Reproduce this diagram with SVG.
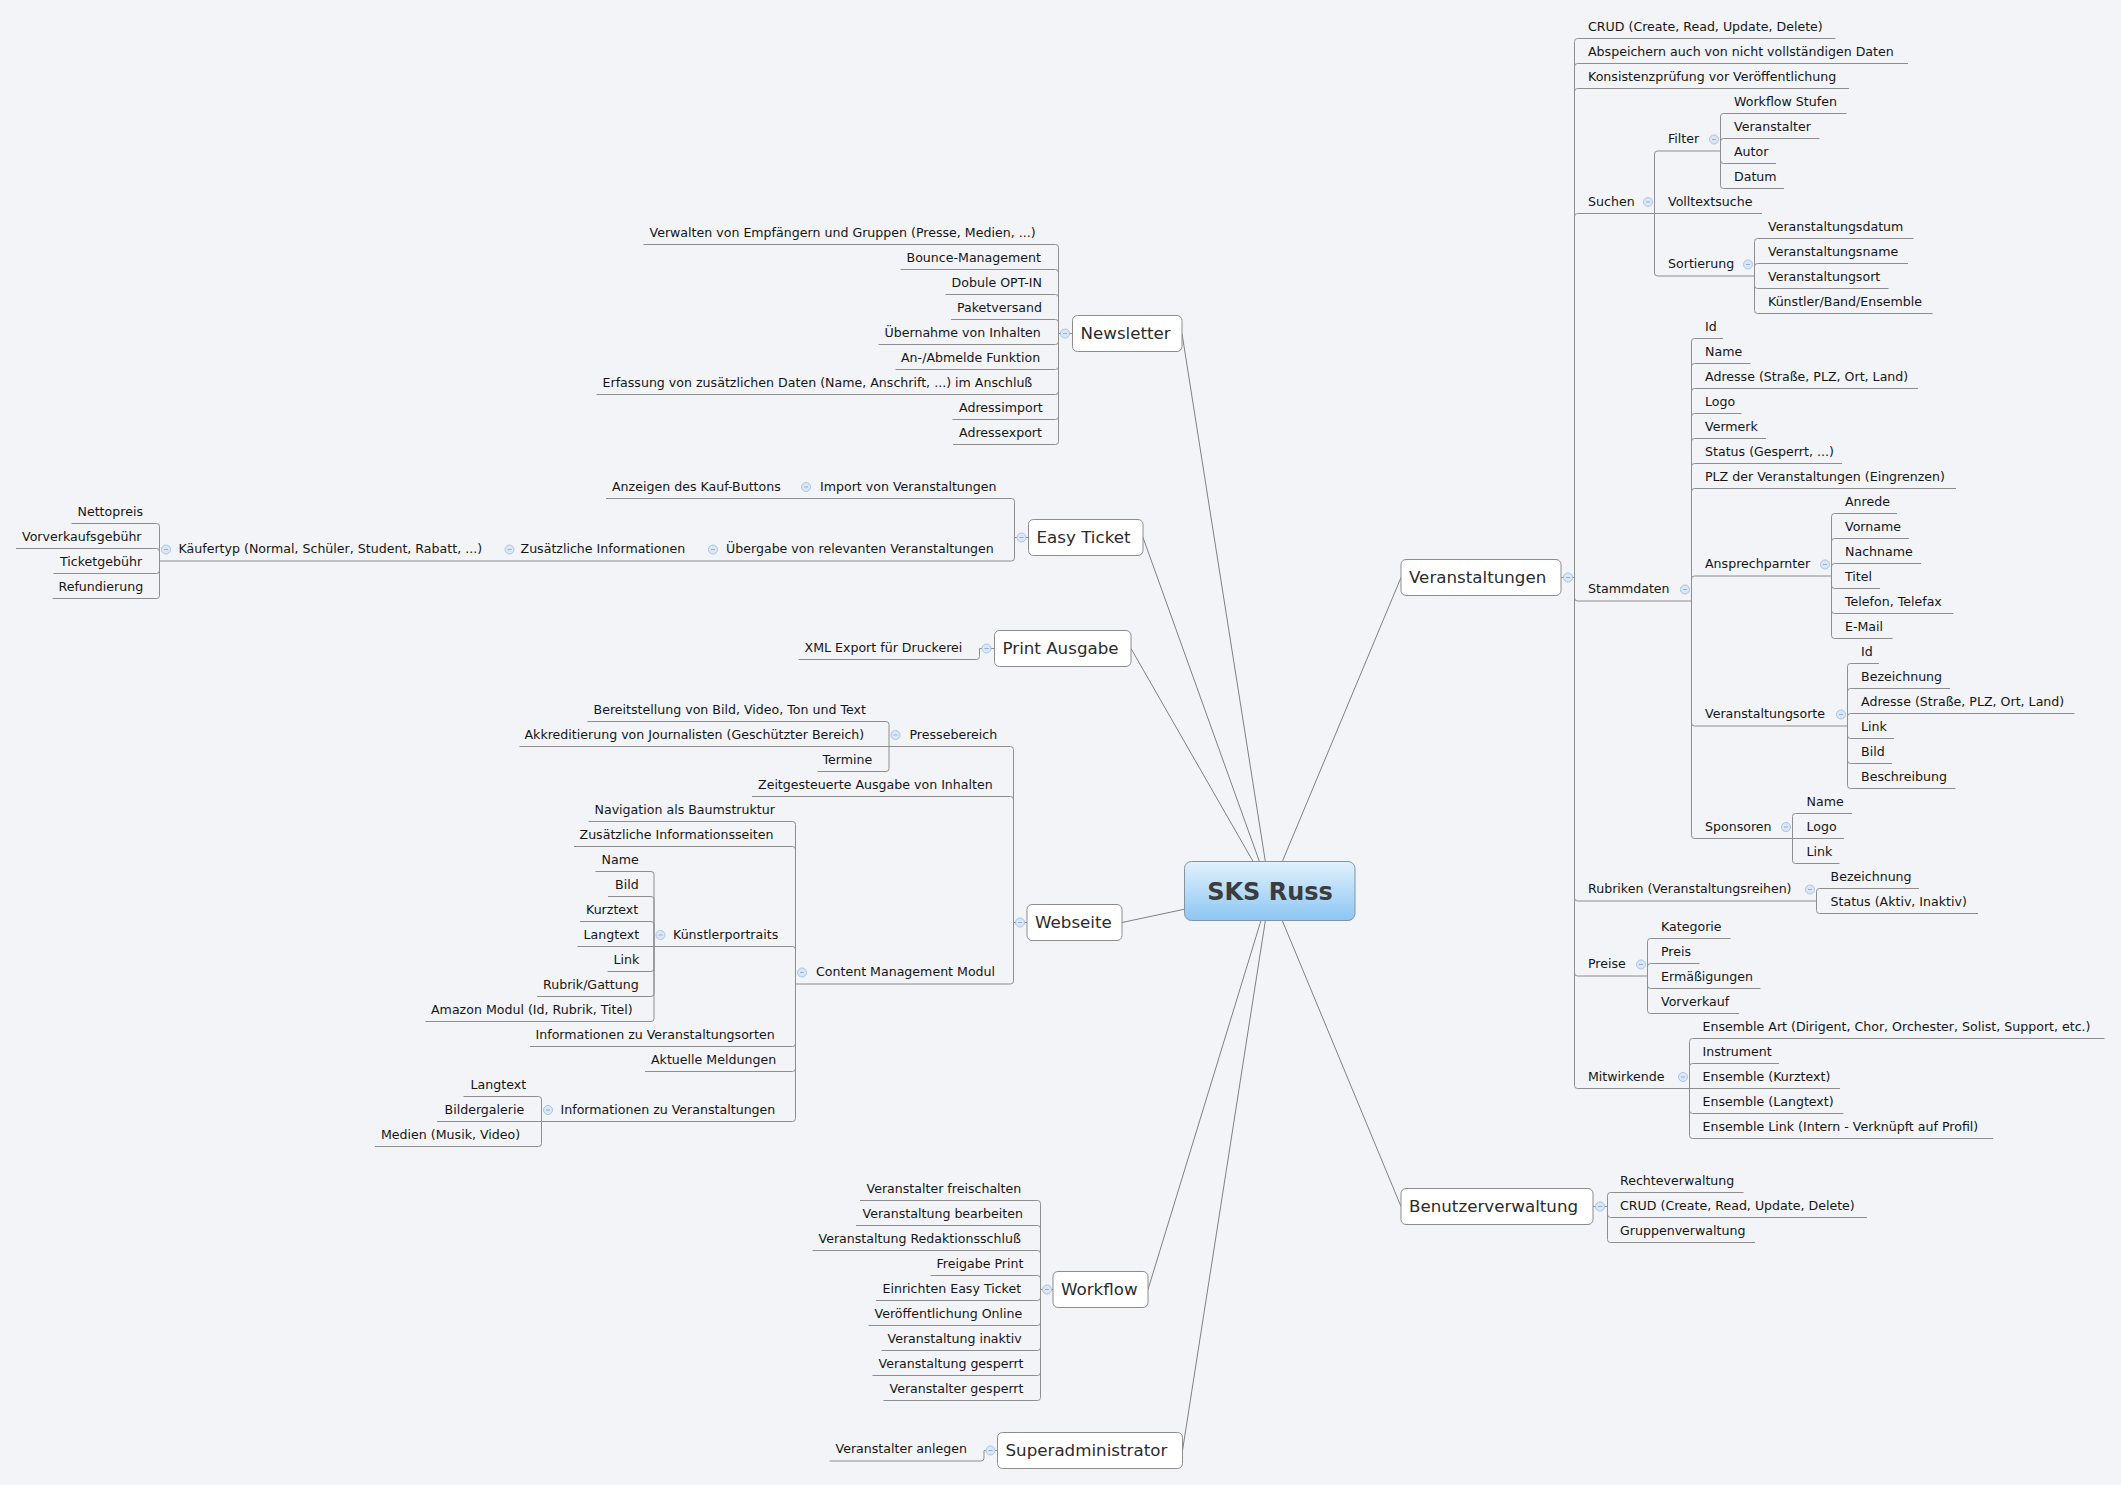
<svg xmlns="http://www.w3.org/2000/svg" width="2121" height="1485" viewBox="0 0 2121 1485">
<style>
.t{font-family:"DejaVu Sans","Noto Sans",sans-serif;font-size:12.6px;fill:#161616}
.m{font-family:"DejaVu Sans","Noto Sans",sans-serif;font-size:16.7px;fill:#2b2b2b}
.c{font-family:"DejaVu Sans","Noto Sans",sans-serif;font-size:24px;font-weight:bold;fill:#3c3c3c;text-anchor:middle}
.ln{fill:none;stroke:#8e8e8e;stroke-width:1}
.mc{fill:none;stroke:#808080;stroke-width:1}
.box{fill:#ffffff;stroke:#8c8c8c;stroke-width:1}
</style>
<defs>
<linearGradient id="cg" x1="0" y1="0" x2="0" y2="1">
<stop offset="0" stop-color="#e2f1fe"/>
<stop offset="1" stop-color="#8cc6f4"/>
</linearGradient>
<g id="col"><circle r="4.5" fill="#dce7f5" stroke="#abc4e4" stroke-width="1"/><path d="M-2 0H2" stroke="#90afd8" stroke-width="1"/></g>
</defs>
<rect width="2121" height="1485" fill="#f2f4f7"/>

<g id="connectors">
<path class="mc" d="M1270 891L1182 333.5M1270 891L1143 537.5M1270 891L1131 648.5M1270 891L1122 922.5M1270 891L1148 1289.5M1270 891L1182.5 1450.5M1270 891L1401 577.5M1270 891L1401 1206.5"/>
<path class="ln" d="M1561 577.5H1574.5
M1574.5 577.5V41.5Q1574.5 38.5 1577.5 38.5H1835.5
M1574.5 577.5V66.5Q1574.5 63.5 1577.5 63.5H1908
M1574.5 577.5V91.5Q1574.5 88.5 1577.5 88.5H1849
M1574.5 577.5V216.5Q1574.5 213.5 1577.5 213.5H1654.5
M1574.5 577.5V598Q1574.5 601 1577.5 601H1691.5
M1574.5 577.5V898Q1574.5 901 1577.5 901H1816.5
M1574.5 577.5V973Q1574.5 976 1577.5 976H1647.5
M1574.5 577.5V1085.5Q1574.5 1088.5 1577.5 1088.5H1689.5"/>
<path class="ln" d="M1654.5 213.5V154Q1654.5 151 1657.5 151H1720.5
M1654.5 213.5H1762
M1654.5 213.5V273Q1654.5 276 1657.5 276H1754.5
M1720.5 151V116.5Q1720.5 113.5 1723.5 113.5H1846.5
M1720.5 151V141.5Q1720.5 138.5 1723.5 138.5H1819.5
M1720.5 151V160.5Q1720.5 163.5 1723.5 163.5H1776
M1720.5 151V185.5Q1720.5 188.5 1723.5 188.5H1784
M1754.5 276V241.5Q1754.5 238.5 1757.5 238.5H1913.5
M1754.5 276V266.5Q1754.5 263.5 1757.5 263.5H1908
M1754.5 276V285.5Q1754.5 288.5 1757.5 288.5H1888.5
M1754.5 276V310.5Q1754.5 313.5 1757.5 313.5H1932.5"/>
<path class="ln" d="M1691.5 601V341.5Q1691.5 338.5 1694.5 338.5H1723
M1691.5 601V366.5Q1691.5 363.5 1694.5 363.5H1750.5
M1691.5 601V391.5Q1691.5 388.5 1694.5 388.5H1918
M1691.5 601V416.5Q1691.5 413.5 1694.5 413.5H1741.5
M1691.5 601V441.5Q1691.5 438.5 1694.5 438.5H1766
M1691.5 601V466.5Q1691.5 463.5 1694.5 463.5H1842
M1691.5 601V491.5Q1691.5 488.5 1694.5 488.5H1956
M1691.5 601V579Q1691.5 576 1694.5 576H1831.5
M1691.5 601V723Q1691.5 726 1694.5 726H1847.5
M1691.5 601V835.5Q1691.5 838.5 1694.5 838.5H1792.5
M1831.5 576V516.5Q1831.5 513.5 1834.5 513.5H1897
M1831.5 576V541.5Q1831.5 538.5 1834.5 538.5H1909
M1831.5 576V566.5Q1831.5 563.5 1834.5 563.5H1921
M1831.5 576V585.5Q1831.5 588.5 1834.5 588.5H1880
M1831.5 576V610.5Q1831.5 613.5 1834.5 613.5H1953.5
M1831.5 576V635.5Q1831.5 638.5 1834.5 638.5H1892.5
M1847.5 726V666.5Q1847.5 663.5 1850.5 663.5H1879
M1847.5 726V691.5Q1847.5 688.5 1850.5 688.5H1950
M1847.5 726V716.5Q1847.5 713.5 1850.5 713.5H2074.5
M1847.5 726V735.5Q1847.5 738.5 1850.5 738.5H1894
M1847.5 726V760.5Q1847.5 763.5 1850.5 763.5H1892
M1847.5 726V785.5Q1847.5 788.5 1850.5 788.5H1955.5
M1792.5 838.5V816.5Q1792.5 813.5 1795.5 813.5H1852
M1792.5 838.5H1844
M1792.5 838.5V860.5Q1792.5 863.5 1795.5 863.5H1839.5"/>
<path class="ln" d="M1816.5 901V891.5Q1816.5 888.5 1819.5 888.5H1919
M1816.5 901V910.5Q1816.5 913.5 1819.5 913.5H1978
M1647.5 976V941.5Q1647.5 938.5 1650.5 938.5H1730.5
M1647.5 976V966.5Q1647.5 963.5 1650.5 963.5H1699.5
M1647.5 976V985.5Q1647.5 988.5 1650.5 988.5H1760.5
M1647.5 976V1010.5Q1647.5 1013.5 1650.5 1013.5H1739
M1689.5 1088.5V1041.5Q1689.5 1038.5 1692.5 1038.5H2104.5
M1689.5 1088.5V1066.5Q1689.5 1063.5 1692.5 1063.5H1779
M1689.5 1088.5H1840
M1689.5 1088.5V1110.5Q1689.5 1113.5 1692.5 1113.5H1843.5
M1689.5 1088.5V1135.5Q1689.5 1138.5 1692.5 1138.5H1993"/>
<path class="ln" d="M1593 1206.5H1607.5
M1607.5 1206.5V1195.5Q1607.5 1192.5 1610.5 1192.5H1743.5
M1607.5 1206.5V1214.5Q1607.5 1217.5 1610.5 1217.5H1867
M1607.5 1206.5V1239.5Q1607.5 1242.5 1610.5 1242.5H1755"/>
<path class="ln" d="M1072.5 333.5H1058.5
M1058.5 333.5V247.5Q1058.5 244.5 1055.5 244.5H643.5
M1058.5 333.5V272.5Q1058.5 269.5 1055.5 269.5H900.5
M1058.5 333.5V297.5Q1058.5 294.5 1055.5 294.5H945.5
M1058.5 333.5V322.5Q1058.5 319.5 1055.5 319.5H951
M1058.5 333.5V341.5Q1058.5 344.5 1055.5 344.5H878.5
M1058.5 333.5V366.5Q1058.5 369.5 1055.5 369.5H895.5
M1058.5 333.5V391.5Q1058.5 394.5 1055.5 394.5H596.5
M1058.5 333.5V416.5Q1058.5 419.5 1055.5 419.5H952.5
M1058.5 333.5V441.5Q1058.5 444.5 1055.5 444.5H953"/>
<path class="ln" d="M1028.5 537.5H1014.5
M1014.5 537.5V501.5Q1014.5 498.5 1011.5 498.5H606
M1014.5 537.5V558Q1014.5 561 1011.5 561H159.5
M159.5 561V526.5Q159.5 523.5 156.5 523.5H71.5
M159.5 561V551.5Q159.5 548.5 156.5 548.5H16
M159.5 561V570.5Q159.5 573.5 156.5 573.5H53.5
M159.5 561V595.5Q159.5 598.5 156.5 598.5H52.5"/>
<path class="ln" d="M994.5 648.5H979.5V656.5Q979.5 659.5 976.5 659.5H798.5"/>
<path class="ln" d="M1027 922.5H1013.5
M1013.5 922.5V749.5Q1013.5 746.5 1010.5 746.5H889
M1013.5 922.5V799.5Q1013.5 796.5 1010.5 796.5H752
M1013.5 922.5V981Q1013.5 984 1010.5 984H795.5
M889 746.5V724.5Q889 721.5 886 721.5H587.5
M889 746.5H519.5
M889 746.5V768.5Q889 771.5 886 771.5H817.5
M795.5 984V824.5Q795.5 821.5 792.5 821.5H588.5
M795.5 984V849.5Q795.5 846.5 792.5 846.5H574
M795.5 984V949.5Q795.5 946.5 792.5 946.5H654
M795.5 984V1043.5Q795.5 1046.5 792.5 1046.5H530
M795.5 984V1068.5Q795.5 1071.5 792.5 1071.5H645
M795.5 984V1118.5Q795.5 1121.5 792.5 1121.5H541.5
M654 946.5V874.5Q654 871.5 651 871.5H595.5
M654 946.5V899.5Q654 896.5 651 896.5H608
M654 946.5V924.5Q654 921.5 651 921.5H580
M654 946.5H577.5
M654 946.5V968.5Q654 971.5 651 971.5H607.5
M654 946.5V993.5Q654 996.5 651 996.5H537
M654 946.5V1018.5Q654 1021.5 651 1021.5H425.5
M541.5 1121.5V1099.5Q541.5 1096.5 538.5 1096.5H463.5
M541.5 1121.5H437
M541.5 1121.5V1143.5Q541.5 1146.5 538.5 1146.5H375"/>
<path class="ln" d="M1053 1289.5H1040.5
M1040.5 1289.5V1203.5Q1040.5 1200.5 1037.5 1200.5H860
M1040.5 1289.5V1228.5Q1040.5 1225.5 1037.5 1225.5H856
M1040.5 1289.5V1253.5Q1040.5 1250.5 1037.5 1250.5H812.5
M1040.5 1289.5V1278.5Q1040.5 1275.5 1037.5 1275.5H930.5
M1040.5 1289.5V1297.5Q1040.5 1300.5 1037.5 1300.5H876
M1040.5 1289.5V1322.5Q1040.5 1325.5 1037.5 1325.5H868.5
M1040.5 1289.5V1347.5Q1040.5 1350.5 1037.5 1350.5H881.5
M1040.5 1289.5V1372.5Q1040.5 1375.5 1037.5 1375.5H872.5
M1040.5 1289.5V1397.5Q1040.5 1400.5 1037.5 1400.5H883.5"/>
<path class="ln" d="M997.5 1450.5H984V1458Q984 1461 981 1461H829.5"/>
</g>

<g id="n-center">
<rect x="1184.5" y="861.5" width="170.5" height="59" rx="7" fill="url(#cg)" stroke="#8494a3" stroke-width="1"/>
<text class="c" x="1270" y="899.5">SKS Russ</text>
</g>

<g id="n-veranstaltungen"><rect class="box" x="1401" y="559.5" width="160" height="36" rx="5"/><text class="m" x="1409" y="582.5">Veranstaltungen</text><use href="#col" x="1568" y="577.5"/></g>
<g id="n-v-crud"><text class="t" x="1588" y="30.5">CRUD (Create, Read, Update, Delete)</text></g>
<g id="n-v-abspeichern"><text class="t" x="1588" y="55.5">Abspeichern auch von nicht vollständigen Daten</text></g>
<g id="n-v-konsistenz"><text class="t" x="1588" y="80.5">Konsistenzprüfung vor Veröffentlichung</text></g>
<g id="n-suchen"><text class="t" x="1588" y="205.5">Suchen</text><use href="#col" x="1648" y="202"/></g>
<g id="n-filter"><text class="t" x="1668" y="143">Filter</text><use href="#col" x="1714" y="139.5"/></g>
<g id="n-f-workflow"><text class="t" x="1734" y="105.5">Workflow Stufen</text></g>
<g id="n-f-veranstalter"><text class="t" x="1734" y="130.5">Veranstalter</text></g>
<g id="n-f-autor"><text class="t" x="1734" y="155.5">Autor</text></g>
<g id="n-f-datum"><text class="t" x="1734" y="180.5">Datum</text></g>
<g id="n-volltext"><text class="t" x="1668" y="205.5">Volltextsuche</text></g>
<g id="n-sortierung"><text class="t" x="1668" y="268">Sortierung</text><use href="#col" x="1748" y="264.5"/></g>
<g id="n-s-datum"><text class="t" x="1768" y="230.5">Veranstaltungsdatum</text></g>
<g id="n-s-name"><text class="t" x="1768" y="255.5">Veranstaltungsname</text></g>
<g id="n-s-ort"><text class="t" x="1768" y="280.5">Veranstaltungsort</text></g>
<g id="n-s-kuenstler"><text class="t" x="1768" y="305.5">Künstler/Band/Ensemble</text></g>
<g id="n-stammdaten"><text class="t" x="1588" y="593">Stammdaten</text><use href="#col" x="1685" y="589.5"/></g>
<g id="n-sd-id"><text class="t" x="1705" y="330.5">Id</text></g>
<g id="n-sd-name"><text class="t" x="1705" y="355.5">Name</text></g>
<g id="n-sd-adresse"><text class="t" x="1705" y="380.5">Adresse (Straße, PLZ, Ort, Land)</text></g>
<g id="n-sd-logo"><text class="t" x="1705" y="405.5">Logo</text></g>
<g id="n-sd-vermerk"><text class="t" x="1705" y="430.5">Vermerk</text></g>
<g id="n-sd-status"><text class="t" x="1705" y="455.5">Status (Gesperrt, ...)</text></g>
<g id="n-sd-plz"><text class="t" x="1705" y="480.5">PLZ der Veranstaltungen (Eingrenzen)</text></g>
<g id="n-ansprech"><text class="t" x="1705" y="568">Ansprechparnter</text><use href="#col" x="1825" y="564.5"/></g>
<g id="n-a-anrede"><text class="t" x="1845" y="505.5">Anrede</text></g>
<g id="n-a-vorname"><text class="t" x="1845" y="530.5">Vorname</text></g>
<g id="n-a-nachname"><text class="t" x="1845" y="555.5">Nachname</text></g>
<g id="n-a-titel"><text class="t" x="1845" y="580.5">Titel</text></g>
<g id="n-a-telefon"><text class="t" x="1845" y="605.5">Telefon, Telefax</text></g>
<g id="n-a-email"><text class="t" x="1845" y="630.5">E-Mail</text></g>
<g id="n-vorte"><text class="t" x="1705" y="718">Veranstaltungsorte</text><use href="#col" x="1841" y="714.5"/></g>
<g id="n-o-id"><text class="t" x="1861" y="655.5">Id</text></g>
<g id="n-o-bez"><text class="t" x="1861" y="680.5">Bezeichnung</text></g>
<g id="n-o-adresse"><text class="t" x="1861" y="705.5">Adresse (Straße, PLZ, Ort, Land)</text></g>
<g id="n-o-link"><text class="t" x="1861" y="730.5">Link</text></g>
<g id="n-o-bild"><text class="t" x="1861" y="755.5">Bild</text></g>
<g id="n-o-beschr"><text class="t" x="1861" y="780.5">Beschreibung</text></g>
<g id="n-sponsoren"><text class="t" x="1705" y="830.5">Sponsoren</text><use href="#col" x="1786" y="827"/></g>
<g id="n-sp-name"><text class="t" x="1806.5" y="805.5">Name</text></g>
<g id="n-sp-logo"><text class="t" x="1806.5" y="830.5">Logo</text></g>
<g id="n-sp-link"><text class="t" x="1806.5" y="855.5">Link</text></g>
<g id="n-rubriken"><text class="t" x="1588" y="893">Rubriken (Veranstaltungsreihen)</text><use href="#col" x="1810" y="889.5"/></g>
<g id="n-r-bez"><text class="t" x="1830.5" y="880.5">Bezeichnung</text></g>
<g id="n-r-status"><text class="t" x="1830.5" y="905.5">Status (Aktiv, Inaktiv)</text></g>
<g id="n-preise"><text class="t" x="1588" y="968">Preise</text><use href="#col" x="1641" y="964.5"/></g>
<g id="n-p-kat"><text class="t" x="1661" y="930.5">Kategorie</text></g>
<g id="n-p-preis"><text class="t" x="1661" y="955.5">Preis</text></g>
<g id="n-p-erm"><text class="t" x="1661" y="980.5">Ermäßigungen</text></g>
<g id="n-p-vvk"><text class="t" x="1661" y="1005.5">Vorverkauf</text></g>
<g id="n-mitwirkende"><text class="t" x="1588" y="1080.5">Mitwirkende</text><use href="#col" x="1683" y="1077"/></g>
<g id="n-m-art"><text class="t" x="1702.5" y="1030.5">Ensemble Art (Dirigent, Chor, Orchester, Solist, Support, etc.)</text></g>
<g id="n-m-instr"><text class="t" x="1702.5" y="1055.5">Instrument</text></g>
<g id="n-m-kurz"><text class="t" x="1702.5" y="1080.5">Ensemble (Kurztext)</text></g>
<g id="n-m-lang"><text class="t" x="1702.5" y="1105.5">Ensemble (Langtext)</text></g>
<g id="n-m-link"><text class="t" x="1702.5" y="1130.5">Ensemble Link (Intern - Verknüpft auf Profil)</text></g>

<g id="n-benutzer"><rect class="box" x="1401" y="1188.5" width="192" height="36" rx="5"/><text class="m" x="1409" y="1211.5">Benutzerverwaltung</text><use href="#col" x="1600" y="1206.5"/></g>
<g id="n-b-rechte"><text class="t" x="1620" y="1184.5">Rechteverwaltung</text></g>
<g id="n-b-crud"><text class="t" x="1620" y="1209.5">CRUD (Create, Read, Update, Delete)</text></g>
<g id="n-b-gruppen"><text class="t" x="1620" y="1234.5">Gruppenverwaltung</text></g>

<g id="n-newsletter"><rect class="box" x="1072.5" y="315.5" width="109.5" height="36" rx="5"/><text class="m" x="1080.5" y="338.5">Newsletter</text><use href="#col" x="1065" y="333.5"/></g>
<g id="n-nl-1"><text class="t" x="649.5" y="236.5">Verwalten von Empfängern und Gruppen (Presse, Medien, ...)</text></g>
<g id="n-nl-2"><text class="t" x="906.5" y="261.5">Bounce-Management</text></g>
<g id="n-nl-3"><text class="t" x="951.5" y="286.5">Dobule OPT-IN</text></g>
<g id="n-nl-4"><text class="t" x="957" y="311.5">Paketversand</text></g>
<g id="n-nl-5"><text class="t" x="884.5" y="336.5">Übernahme von Inhalten</text></g>
<g id="n-nl-6"><text class="t" x="901" y="361.5">An-/Abmelde Funktion</text></g>
<g id="n-nl-7"><text class="t" x="602.5" y="386.5">Erfassung von zusätzlichen Daten (Name, Anschrift, ...) im Anschluß</text></g>
<g id="n-nl-8"><text class="t" x="959" y="411.5">Adressimport</text></g>
<g id="n-nl-9"><text class="t" x="959" y="436.5">Adressexport</text></g>

<g id="n-easyticket"><rect class="box" x="1028.5" y="519.5" width="114.5" height="36" rx="5"/><text class="m" x="1036.5" y="542.5">Easy Ticket</text><use href="#col" x="1021.5" y="537.5"/></g>
<g id="n-et-import"><text class="t" x="820" y="490.5">Import von Veranstaltungen</text><use href="#col" x="806" y="487"/></g>
<g id="n-et-anzeigen"><text class="t" x="612" y="490.5">Anzeigen des Kauf-Buttons</text></g>
<g id="n-et-uebergabe"><text class="t" x="726" y="553">Übergabe von relevanten Veranstaltungen</text><use href="#col" x="713" y="549.5"/></g>
<g id="n-et-zusatz"><text class="t" x="520.5" y="553">Zusätzliche Informationen</text><use href="#col" x="509.5" y="549.5"/></g>
<g id="n-et-kaeufer"><text class="t" x="178.5" y="553">Käufertyp (Normal, Schüler, Student, Rabatt, ...)</text><use href="#col" x="166" y="549.5"/></g>
<g id="n-et-netto"><text class="t" x="77.5" y="515.5">Nettopreis</text></g>
<g id="n-et-vvk"><text class="t" x="22" y="540.5">Vorverkaufsgebühr</text></g>
<g id="n-et-ticket"><text class="t" x="60" y="565.5">Ticketgebühr</text></g>
<g id="n-et-refund"><text class="t" x="58.5" y="590.5">Refundierung</text></g>

<g id="n-print"><rect class="box" x="994.5" y="630.5" width="136.5" height="36" rx="5"/><text class="m" x="1002.5" y="653.5">Print Ausgabe</text><use href="#col" x="986.5" y="648.5"/></g>
<g id="n-pr-xml"><text class="t" x="804.5" y="651.5">XML Export für Druckerei</text></g>

<g id="n-webseite"><rect class="box" x="1027" y="904.5" width="95" height="36" rx="5"/><text class="m" x="1035" y="927.5">Webseite</text><use href="#col" x="1020" y="922.5"/></g>
<g id="n-w-presse"><text class="t" x="909.5" y="738.5">Pressebereich</text><use href="#col" x="895.5" y="735"/></g>
<g id="n-w-p1"><text class="t" x="593.5" y="713.5">Bereitstellung von Bild, Video, Ton und Text</text></g>
<g id="n-w-p2"><text class="t" x="524.5" y="738.5">Akkreditierung von Journalisten (Geschützter Bereich)</text></g>
<g id="n-w-p3"><text class="t" x="822.5" y="763.5">Termine</text></g>
<g id="n-w-zeit"><text class="t" x="758" y="788.5">Zeitgesteuerte Ausgabe von Inhalten</text></g>
<g id="n-w-cms"><text class="t" x="816" y="976">Content Management Modul</text><use href="#col" x="802" y="972.5"/></g>
<g id="n-c-nav"><text class="t" x="594.5" y="813.5">Navigation als Baumstruktur</text></g>
<g id="n-c-zus"><text class="t" x="579.5" y="838.5">Zusätzliche Informationsseiten</text></g>
<g id="n-c-kuenstler"><text class="t" x="673" y="938.5">Künstlerportraits</text><use href="#col" x="660.5" y="935"/></g>
<g id="n-k-name"><text class="t" x="601.5" y="863.5">Name</text></g>
<g id="n-k-bild"><text class="t" x="615" y="888.5">Bild</text></g>
<g id="n-k-kurz"><text class="t" x="586" y="913.5">Kurztext</text></g>
<g id="n-k-lang"><text class="t" x="583.5" y="938.5">Langtext</text></g>
<g id="n-k-link"><text class="t" x="613.5" y="963.5">Link</text></g>
<g id="n-k-rubrik"><text class="t" x="543" y="988.5">Rubrik/Gattung</text></g>
<g id="n-k-amazon"><text class="t" x="431" y="1013.5">Amazon Modul (Id, Rubrik, Titel)</text></g>
<g id="n-c-orte"><text class="t" x="535.5" y="1038.5">Informationen zu Veranstaltungsorten</text></g>
<g id="n-c-aktuell"><text class="t" x="651" y="1063.5">Aktuelle Meldungen</text></g>
<g id="n-c-infoveranst"><text class="t" x="560.5" y="1113.5">Informationen zu Veranstaltungen</text><use href="#col" x="548" y="1110"/></g>
<g id="n-i-lang"><text class="t" x="470.5" y="1088.5">Langtext</text></g>
<g id="n-i-bilder"><text class="t" x="444.5" y="1113.5">Bildergalerie</text></g>
<g id="n-i-medien"><text class="t" x="381" y="1138.5">Medien (Musik, Video)</text></g>

<g id="n-workflow"><rect class="box" x="1053" y="1271.5" width="95" height="36" rx="5"/><text class="m" x="1061" y="1294.5">Workflow</text><use href="#col" x="1047" y="1289.5"/></g>
<g id="n-wf-1"><text class="t" x="866.5" y="1192.5">Veranstalter freischalten</text></g>
<g id="n-wf-2"><text class="t" x="862.5" y="1217.5">Veranstaltung bearbeiten</text></g>
<g id="n-wf-3"><text class="t" x="818.5" y="1242.5">Veranstaltung Redaktionsschluß</text></g>
<g id="n-wf-4"><text class="t" x="936.5" y="1267.5">Freigabe Print</text></g>
<g id="n-wf-5"><text class="t" x="882.5" y="1292.5">Einrichten Easy Ticket</text></g>
<g id="n-wf-6"><text class="t" x="874.5" y="1317.5">Veröffentlichung Online</text></g>
<g id="n-wf-7"><text class="t" x="887.5" y="1342.5">Veranstaltung inaktiv</text></g>
<g id="n-wf-8"><text class="t" x="878.5" y="1367.5">Veranstaltung gesperrt</text></g>
<g id="n-wf-9"><text class="t" x="889.5" y="1392.5">Veranstalter gesperrt</text></g>

<g id="n-superadmin"><rect class="box" x="997.5" y="1432.5" width="185" height="36" rx="5"/><text class="m" x="1005.5" y="1455.5">Superadministrator</text><use href="#col" x="990.5" y="1450.5"/></g>
<g id="n-sa-1"><text class="t" x="835.5" y="1453">Veranstalter anlegen</text></g>
</svg>
